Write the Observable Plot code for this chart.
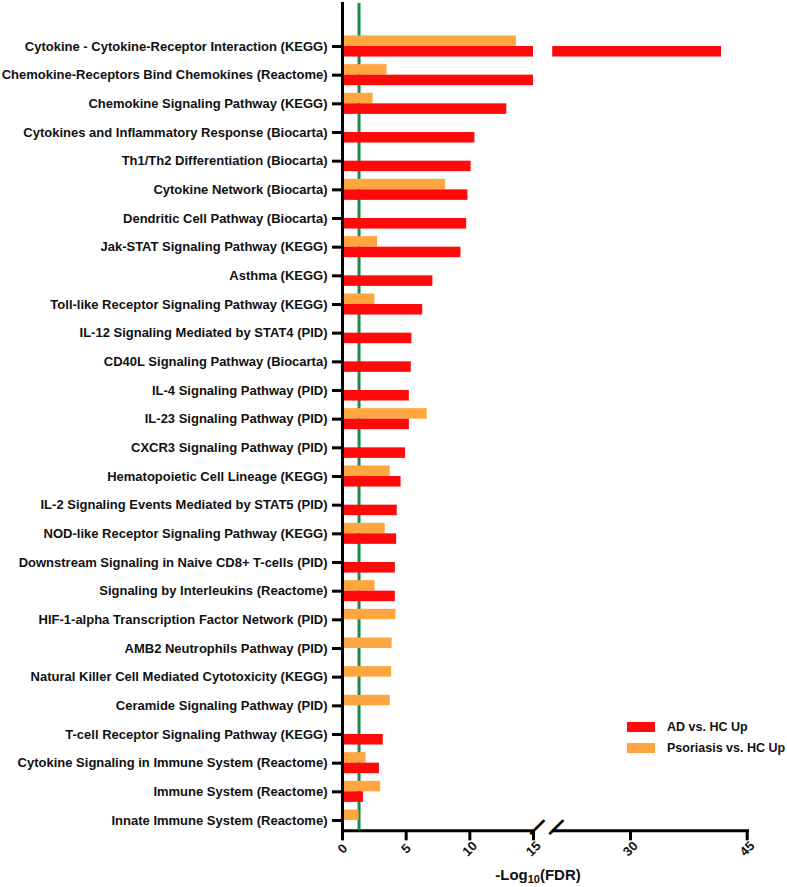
<!DOCTYPE html>
<html>
<head>
<meta charset="utf-8">
<script src="https://cdn.jsdelivr.net/npm/d3@7"></script>
<script src="https://cdn.jsdelivr.net/npm/@observablehq/plot@0.6"></script>
<style>
  html, body { margin: 0; padding: 0; background: #fff; }
  #wrap { position: relative; width: 787px; height: 887px; font-family: "Liberation Sans", Arial, sans-serif; }
  #xlabel { position: absolute; left: 438px; width: 200px; top: 866px; text-align: center; font-weight: bold; font-size: 15px; color: #111; }
  #xlabel sub { font-size: 11px; vertical-align: -3px; line-height: 0; }
  .leg { position: absolute; left: 627px; font-weight: bold; font-size: 12.5px; color: #111; display: flex; align-items: center; }
  .sw { width: 28px; height: 10px; margin-right: 12px; }
</style>
</head>
<body>
<div id="wrap">
  <div id="chart"></div>
  <div class="leg" style="top:720px"><span class="sw" id="sw0"></span><span id="lg0"></span></div>
  <div class="leg" style="top:741px"><span class="sw" id="sw1"></span><span id="lg1"></span></div>
  <div id="xlabel">-Log<sub>10</sub>(FDR)</div>
</div>
<script>
const categories = [
  "Cytokine - Cytokine-Receptor Interaction (KEGG)",
  "Chemokine-Receptors Bind Chemokines (Reactome)",
  "Chemokine Signaling Pathway (KEGG)",
  "Cytokines and Inflammatory Response (Biocarta)",
  "Th1/Th2 Differentiation (Biocarta)",
  "Cytokine Network (Biocarta)",
  "Dendritic Cell Pathway (Biocarta)",
  "Jak-STAT Signaling Pathway (KEGG)",
  "Asthma (KEGG)",
  "Toll-like Receptor Signaling Pathway (KEGG)",
  "IL-12 Signaling Mediated by STAT4 (PID)",
  "CD40L Signaling Pathway (Biocarta)",
  "IL-4 Signaling Pathway (PID)",
  "IL-23 Signaling Pathway (PID)",
  "CXCR3 Signaling Pathway (PID)",
  "Hematopoietic Cell Lineage (KEGG)",
  "IL-2 Signaling Events Mediated by STAT5 (PID)",
  "NOD-like Receptor Signaling Pathway (KEGG)",
  "Downstream Signaling in Naive CD8+ T-cells (PID)",
  "Signaling by Interleukins (Reactome)",
  "HIF-1-alpha Transcription Factor Network (PID)",
  "AMB2 Neutrophils Pathway (PID)",
  "Natural Killer Cell Mediated Cytotoxicity (KEGG)",
  "Ceramide Signaling Pathway (PID)",
  "T-cell Receptor Signaling Pathway (KEGG)",
  "Cytokine Signaling in Immune System (Reactome)",
  "Immune System (Reactome)",
  "Innate Immune System (Reactome)"
];
const seriesNames = ["AD vs. HC Up", "Psoriasis vs. HC Up"];
const seriesColors = ["#fe0a0a", "#ffa640"];
const adValues = [41.7, 16, 12.9, 10.4, 10.1, 9.85, 9.75, 9.3, 7.1, 6.3, 5.45, 5.4, 5.25, 5.25, 4.95, 4.6, 4.3, 4.25, 4.15, 4.15, null, null, null, null, 3.2, 2.9, 1.65, null];
const psoValues = [13.65, 3.5, 2.4, null, null, 8.1, null, 2.75, null, 2.55, null, null, null, 6.65, null, 3.75, null, 3.35, null, 2.55, 4.2, 3.9, 3.85, 3.75, null, 1.85, 3.0, 1.3];
const xTicks = [0, 5, 10, 15, 30, 45];
const axisBreak = [15, 20];
const xDomain = [0, 15, 20, 45];
const threshold = 1.3; // -log10(0.05)

// split each bar around the axis break
function segments(values, series) {
  const out = [];
  values.forEach((v, i) => {
    if (v == null) return;
    out.push({cat: categories[i], series, x1: 0, x2: Math.min(v, axisBreak[0])});
    if (v > axisBreak[1]) out.push({cat: categories[i], series, x1: axisBreak[1], x2: v});
  });
  return out;
}
const adSegs = segments(adValues, seriesNames[0]);
const psoSegs = segments(psoValues, seriesNames[1]);

const lift = -4; // the x axis sits slightly above the last band's edge

const chart = Plot.plot({
  width: 787,
  height: 862,
  marginTop: 3,
  marginBottom: 27.67,
  marginLeft: 342,
  marginRight: 40,
  style: {fontFamily: "'Liberation Sans', Arial, sans-serif", color: "#111", background: "#fff"},
  x: {type: "linear", domain: xDomain, range: [342, 533, 552.2, 746.7], label: null},
  y: {domain: categories, padding: 0, paddingOuter: 0.5, align: 1, round: false, label: null},
  marks: [
    Plot.frame({anchor: "bottom", strokeWidth: 3, stroke: "#000", dy: lift}),
    Plot.barX([axisBreak], {x1: d => d[0], x2: d => d[1], fill: "#fff", insetBottom: -4, insetTop: -4}),
    Plot.ruleX([threshold], {stroke: "#1a8a48", strokeWidth: 3, insetBottom: -lift}),
    Plot.barX(psoSegs, {x1: "x1", x2: "x2", y: "cat", fill: seriesColors[1], insetTop: 3.8, insetBottom: 14.33}),
    Plot.barX(adSegs, {x1: "x1", x2: "x2", y: "cat", fill: seriesColors[0], insetTop: 14.33, insetBottom: 3.8}),
    Plot.frame({anchor: "left", strokeWidth: 3, stroke: "#000", insetBottom: -lift - 1.5}),
    Plot.axisY({tickSize: 10, tickPadding: 5, strokeWidth: 3, stroke: "#000", fontSize: 13, fontWeight: "bold", fill: "#111"}),
    Plot.axisX({ticks: xTicks, tickSize: 10, strokeWidth: 3, stroke: "#000", tickRotate: -45, textAnchor: "middle", lineAnchor: "middle", tickPadding: 8, fontSize: 13, fontWeight: "bold", fill: "#111", tickFormat: d => String(d), dy: lift}),
    Plot.text(axisBreak, {x: d => d, frameAnchor: "bottom", text: () => "|", rotate: 45, fontSize: 21, fontWeight: "bold", fill: "#000", dy: lift})
  ]
});
document.getElementById("chart").append(chart);
seriesNames.forEach((n, i) => {
  document.getElementById("sw" + i).style.background = seriesColors[i];
  document.getElementById("lg" + i).textContent = n;
});
</script>
</body>
</html>
